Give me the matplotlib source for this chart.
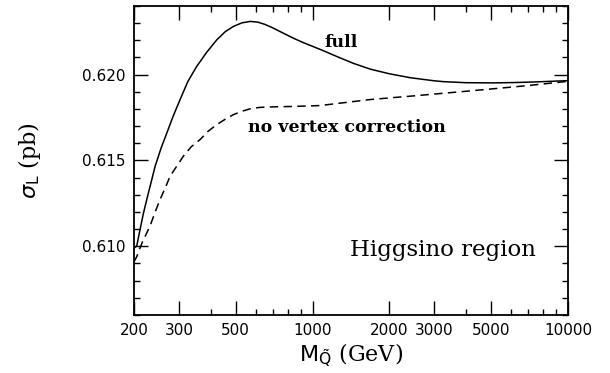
import numpy as np
import matplotlib
matplotlib.use("Agg")
import matplotlib.pyplot as plt
from matplotlib.ticker import FixedLocator, NullFormatter, MultipleLocator

# squark mass (GeV) and sigma_L (pb)
m_full = [200, 205, 210, 218, 225, 242, 255, 269, 285, 303, 325, 352, 385, 422, 455,
          490, 530, 570, 610, 650, 700, 760, 840, 922, 1000, 1100, 1248, 1450, 1684,
          2000, 2416, 3000, 3265, 4000, 5130, 6200, 7586, 10000]
sig_full = [0.6099, 0.61002, 0.6108, 0.61196, 0.6128, 0.61467, 0.6157, 0.61661,
            0.6176, 0.61855, 0.6196, 0.62048, 0.6213, 0.62203, 0.6225, 0.62281,
            0.62302, 0.62310, 0.62306, 0.62293, 0.62272, 0.62245, 0.62213, 0.62186,
            0.62165, 0.62140, 0.62105, 0.62065, 0.62032, 0.62005, 0.61982, 0.61964,
            0.61959, 0.61953, 0.61952, 0.61954, 0.61958, 0.61965]

m_novtx = [200, 205, 215, 231, 242, 253, 265, 277, 295, 312, 335, 363, 390, 422, 455,
           490, 530, 570, 620, 683, 850, 1072, 1300, 1684, 2570, 4413, 6934, 10000]
sig_novtx = [0.6091, 0.6094, 0.6102, 0.61118, 0.6120, 0.61273, 0.6134, 0.61409,
             0.6147, 0.61525, 0.6158, 0.61622, 0.6167, 0.61709, 0.6174, 0.61767,
             0.61787, 0.61801, 0.61809, 0.61812, 0.61815, 0.61820, 0.61835, 0.61855,
             0.61878, 0.61909, 0.61936, 0.61961]

xmajor = [200, 300, 500, 1000, 2000, 3000, 5000, 10000]
xminor = [400, 600, 700, 800, 900, 4000, 6000, 7000, 8000, 9000]
ymajor = [0.610, 0.615, 0.620]

fig = plt.figure(figsize=(6.1, 3.73), dpi=100)
ax = fig.add_axes([0.2197, 0.1555, 0.7113, 0.8285])

ax.plot(m_full, sig_full, color='k', lw=1.1)
ax.plot(m_novtx, sig_novtx, color='k', lw=1.1, dashes=(5.5, 3.5))

ax.set_xscale('log')
ax.set_xlim(200, 10000)
ax.set_ylim(0.606, 0.624)

ax.xaxis.set_major_locator(FixedLocator(xmajor))
ax.set_xticklabels([str(v) for v in xmajor])
ax.xaxis.set_minor_locator(FixedLocator(xminor))
ax.xaxis.set_minor_formatter(NullFormatter())
ax.set_yticks(ymajor)
ax.set_yticklabels(['%.3f' % v for v in ymajor])
ax.yaxis.set_minor_locator(MultipleLocator(0.001))

ax.tick_params(which='both', direction='in', top=True, right=True, width=1.0,
               labelsize=11)
ax.tick_params(which='major', length=10, pad=6)
ax.tick_params(which='minor', length=4)
for s in ax.spines.values():
    s.set_linewidth(1.3)

serif = 'DejaVu Serif'
ax.text(1297, 0.6219, 'full', family=serif, fontsize=12.5, fontweight='bold',
        ha='center', va='center')
ax.text(1357, 0.6169, 'no vertex correction', family=serif, fontsize=12.5,
        fontweight='bold', ha='center', va='center')
ax.text(3230, 0.6098, 'Higgsino region', family=serif, fontsize=16.5,
        ha='center', va='center')

plt.rcParams['mathtext.fontset'] = 'dejavuserif'
ax.set_xlabel(r'$\mathrm{M}_{\tilde{\mathrm{Q}}}$ (GeV)', family=serif, fontsize=16,
              labelpad=2)
ax.set_ylabel(r'$\sigma_{\mathrm{L}}$ (pb)', family=serif, fontsize=16, labelpad=28)

fig.savefig('out.png', dpi=100)
